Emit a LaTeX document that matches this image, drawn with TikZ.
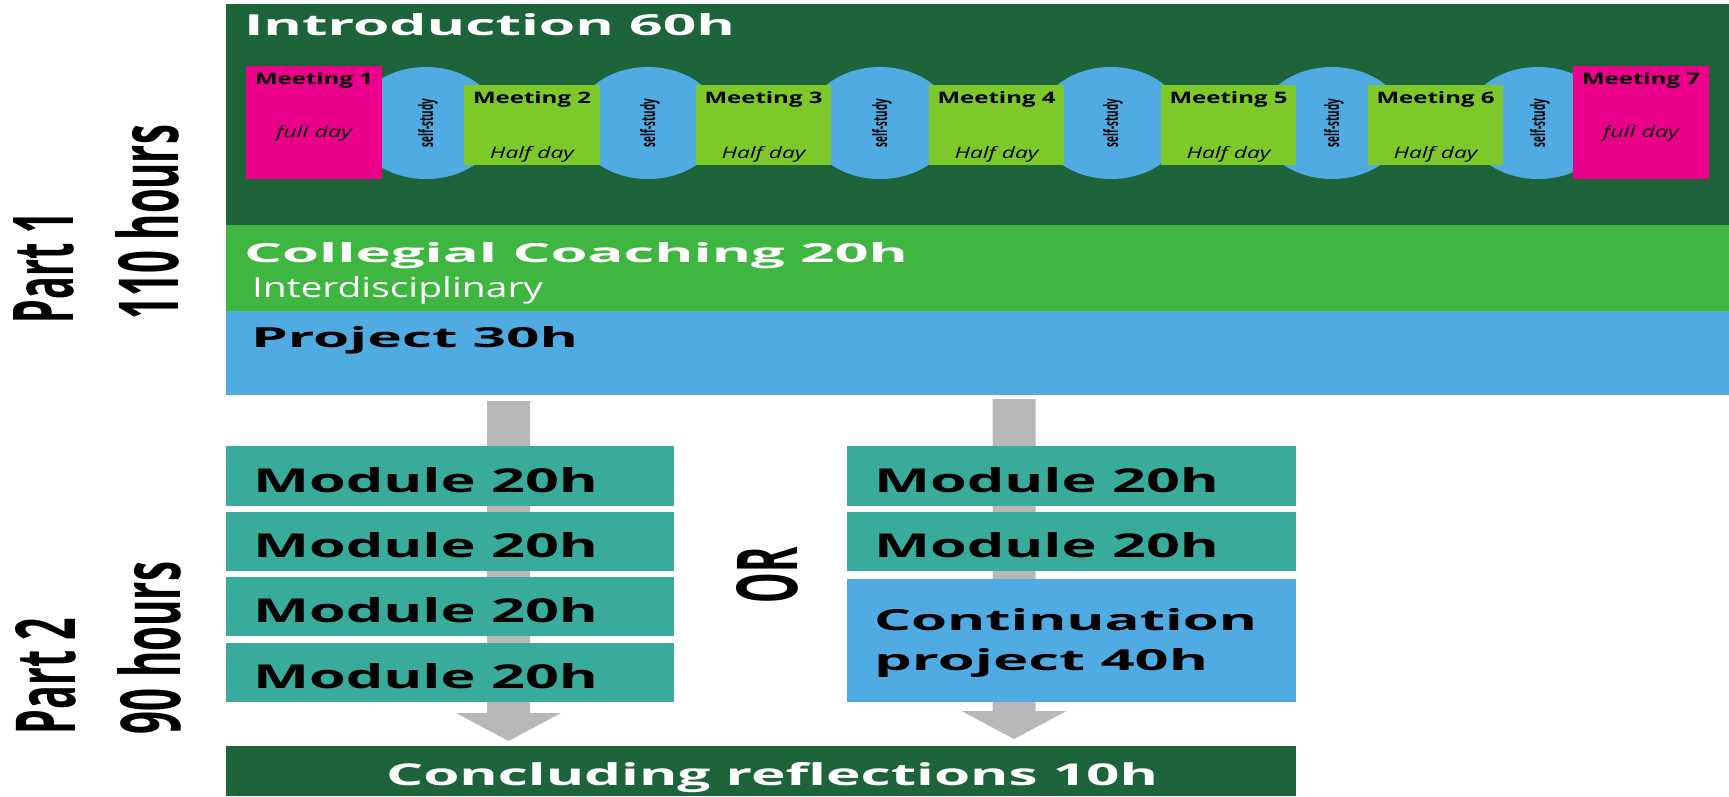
\documentclass[tikz,border=0pt]{standalone}
\usepackage{fontspec}
\setmainfont{Open Sans}
\usepackage{graphicx}
\usetikzlibrary{shapes.geometric,calc}
\definecolor{dkgreen}{HTML}{1E643A}
\definecolor{magentabox}{HTML}{EB008B}
\definecolor{limebox}{HTML}{7EC92A}
\definecolor{skyblue}{HTML}{4FABE1}
\definecolor{midgreen}{HTML}{3EB640}
\definecolor{tealbox}{HTML}{38AB9B}
\definecolor{arrowgray}{HTML}{B8B8B8}
\newcommand{\FitT}[3]{\resizebox{#1pt}{#2pt}{#3}}
\newcommand{\GrayArrow}[2]{%
  \fill[arrowgray] ($(#1)+(-21.5,0)$) -- ($(#1)+(21.5,0)$) -- ($(#2)+(21.5,-28)$)
    -- ($(#2)+(52.5,-28)$) -- (#2) -- ($(#2)+(-52.5,-28)$) -- ($(#2)+(-21.5,-28)$) -- cycle;}
\begin{document}
\begin{tikzpicture}[x=1pt,y=-1pt,
  box/.style={draw=none,inner sep=0,outer sep=0,anchor=north west},
  lbl/.style={inner sep=0,outer sep=0,anchor=base west},
  clbl/.style={inner sep=0,outer sep=0,anchor=base},
  vlbl/.style={inner sep=0,outer sep=0,anchor=base west,rotate=90},
  selfst/.style={ellipse,fill=skyblue,draw=none,minimum width=146pt,minimum height=112pt,inner sep=0},
  halfbox/.style={box,fill=limebox,minimum height=80pt},
  fullbox/.style={box,fill=magentabox,minimum width=136pt,minimum height=113pt},
  modbox/.style={box,fill=tealbox}]
\useasboundingbox (0,0) rectangle (1729,796);
% side labels
\node[vlbl] (p1) at (73,323) {\FitT{111}{60}{\bfseries Part 1}};
\node[vlbl] (h1) at (178,319) {\FitT{194}{63}{\bfseries 110 hours}};
\node[vlbl] (p2) at (75,734) {\FitT{116}{60}{\bfseries Part 2}};
\node[vlbl] (h2) at (180,734) {\FitT{172}{63}{\bfseries 90 hours}};
% bands
\node[box,fill=dkgreen,minimum width=1503pt,minimum height=221pt] (intro) at (226,4) {};
\node[box,fill=midgreen,minimum width=1503pt,minimum height=86pt] (coach) at (226,225) {};
\node[box,fill=skyblue,minimum width=1503pt,minimum height=84pt] (proj) at (226,311) {};
\node[lbl] (introT) at (244,35) {\FitT{491}{22}{\color{white}\bfseries Introduction 60h}};
\node[lbl] (coachT) at (244,262) {\FitT{664}{20}{\color{white}\bfseries Collegial Coaching 20h}};
\node[lbl] (interT) at (252,297) {\FitT{291}{21}{\color{white}Interdisciplinary}};
\node[lbl] (projT) at (251,347) {\FitT{327}{21}{\bfseries Project 30h}};
% self-study ellipses
\foreach \i/\cx in {1/426,2/648,3/880,4/1111,5/1332,6/1538}{
  \node[selfst] (s\i) at (\cx,123) {};
  \node[clbl,rotate=90] (st\i) at (\cx+7,123) {\FitT{48}{15}{\bfseries self-study}};
}
% meetings
\node[fullbox] (m1) at (246,66) {};
\node[halfbox,minimum width=136pt] (m2) at (464,85) {};
\node[halfbox,minimum width=135pt] (m3) at (696,85) {};
\node[halfbox,minimum width=135pt] (m4) at (929,85) {};
\node[halfbox,minimum width=135pt] (m5) at (1161,85) {};
\node[halfbox,minimum width=135pt] (m6) at (1368,85) {};
\node[fullbox] (m7) at (1573,66) {};
\node[clbl] (m1a) at (314,84) {\FitT{118}{12}{\bfseries Meeting 1}};
\node[clbl] (m1b) at (314,137) {\FitT{76}{12}{\itshape full day}};
\node[clbl] (m7a) at (1641,84) {\FitT{118}{12}{\bfseries Meeting 7}};
\node[clbl] (m7b) at (1641,137) {\FitT{76}{12}{\itshape full day}};
\foreach \k/\cx in {2/532,3/763.5,4/996.5,5/1228.5,6/1435.5}{
  \node[clbl] (m\k a) at (\cx,103) {\FitT{118}{12}{\bfseries Meeting \k}};
  \node[clbl] (m\k b) at (\cx,158) {\FitT{84}{12}{\itshape Half day}};
}
% arrows
\coordinate (a1s) at (508.5,401);
\coordinate (a1e) at (508.5,741);
\coordinate (a2s) at (1014,399);
\coordinate (a2e) at (1014,739);
\GrayArrow{a1s}{a1e}
\GrayArrow{a2s}{a2e}
% modules left
\node[modbox,minimum width=448pt,minimum height=60pt] (l1) at (226,446) {};
\node[modbox,minimum width=448pt,minimum height=59pt] (l2) at (226,512) {};
\node[modbox,minimum width=448pt,minimum height=59pt] (l3) at (226,577) {};
\node[modbox,minimum width=448pt,minimum height=59pt] (l4) at (226,643) {};
\foreach \j/\by in {1/492,2/557,3/622,4/688}{
  \node[lbl] (lt\j) at (253,\by) {\FitT{345}{25}{\bfseries Module 20h}};
}
% modules right
\node[modbox,minimum width=449pt,minimum height=60pt] (r1) at (847,446) {};
\node[modbox,minimum width=449pt,minimum height=59pt] (r2) at (847,512) {};
\node[box,fill=skyblue,minimum width=449pt,minimum height=123pt] (r3) at (847,579) {};
\node[lbl] (rt1) at (874,492) {\FitT{345}{25}{\bfseries Module 20h}};
\node[lbl] (rt2) at (874,557) {\FitT{345}{25}{\bfseries Module 20h}};
\node[lbl] (rt3) at (874,630) {\FitT{383}{22}{\bfseries Continuation}};
\node[lbl] (rt4) at (874,670) {\FitT{334}{22}{\bfseries project 40h}};
% OR
\node[vlbl] (or) at (797,603) {\FitT{56}{61}{\bfseries OR}};
% concluding
\node[box,fill=dkgreen,minimum width=1070pt,minimum height=50pt] (concl) at (226,746) {};
\node[lbl] (conclT) at (386,785) {\FitT{772}{23}{\color{white}\bfseries Concluding reflections 10h}};
\end{tikzpicture}
\end{document}
